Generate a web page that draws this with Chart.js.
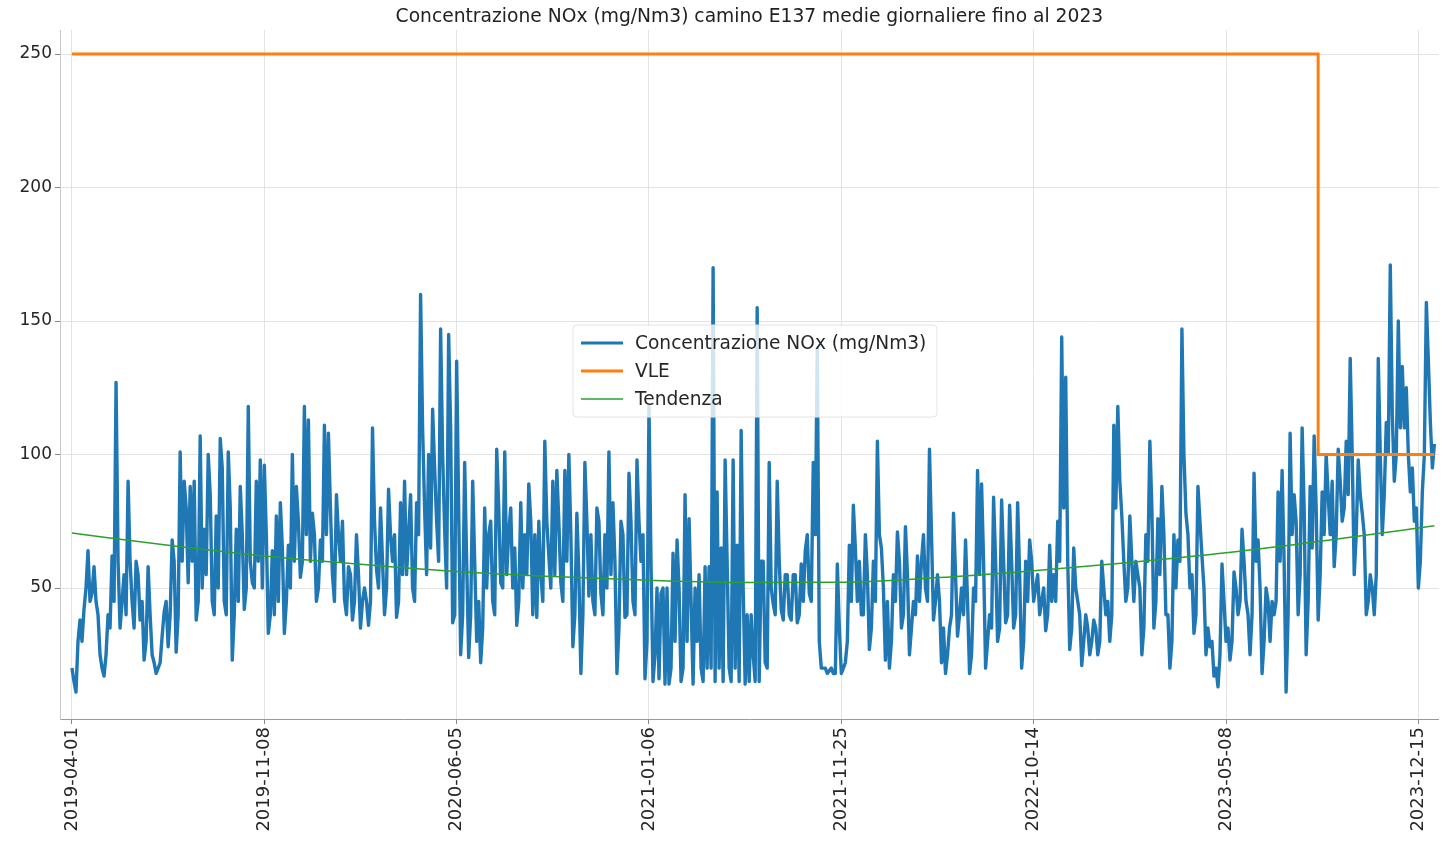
<!DOCTYPE html>
<html>
<head>
<meta charset="utf-8">
<script src="https://cdn.jsdelivr.net/npm/chart.js@4.4.1/dist/chart.umd.min.js"></script>
<style>html,body{margin:0;padding:0;background:#fff;overflow:hidden}</style>
</head>
<body>
<canvas id="c" width="1443" height="841"></canvas>
<script>
const chartTitle = 'Concentrazione NOx (mg/Nm3) camino E137 medie giornaliere fino al 2023';
const seriesNames = ['Concentrazione NOx (mg/Nm3)', 'VLE', 'Tendenza'];
const tickLabels = ['2019-04-01','2019-11-08','2020-06-05','2021-01-06','2021-11-25','2022-10-14','2023-05-08','2023-12-15'];
const tickIndex = [0, 48, 96, 144, 192, 240, 288, 336];
const yTicks = [50, 100, 150, 200, 250];

// NOx readings at whole sample positions
const noxValues = [
 20,11,38,42,64,48,45,25,17,40,62,127,35,55,90,45,60,38,23,58,25,18,22,41,28,68,26,101,90,52,60,38,107,72,100,45,77,106,45,101,23,72,88,42,118,52,90,98,
 96,33,64,77,82,33,66,100,88,54,118,113,78,45,68,111,108,55,85,60,46,58,38,70,35,50,36,110,57,80,40,87,60,39,82,90,70,50,82,160,80,100,117,75,147,72,145,37,
 135,25,97,24,90,30,22,80,70,45,102,52,101,71,50,36,82,70,89,40,39,55,105,62,90,94,52,94,100,28,78,18,97,47,45,80,48,70,101,82,18,75,39,93,45,98,60,16,
 118,15,50,48,14,14,63,68,15,85,76,14,30,20,58,58,170,86,65,98,20,98,66,109,14,15,25,155,60,22,97,44,90,42,55,40,55,37,59,64,48,97,140,20,20,19,18,59,
 18,22,66,81,45,40,70,27,60,105,65,23,20,55,71,35,73,25,45,62,60,50,102,38,55,22,18,35,78,32,50,68,18,50,94,89,20,40,84,30,83,37,81,35,82,20,60,68,45,
 55,45,34,66,55,75,144,129,27,65,45,21,40,25,38,25,60,40,30,111,118,77,45,77,45,55,25,70,105,35,76,88,40,20,70,68,147,78,50,33,88,62,25,28,17,13,59,30,23,
 56,40,72,45,25,93,68,18,50,30,40,86,94,11,108,85,40,110,25,88,107,38,86,100,70,58,102,75,105,136,55,98,78,40,55,40,136,70,112,171,90,150,133,125,86,75,50,86,157,112,104
];

// NOx readings half-way between the whole sample positions
const noxValuesMid = [
 15,30,30,50,45,58,40,20,25,35,45,60,45,40,60,35,55,45,30,40,22,20,32,45,40,60,40,60,80,88,90,45,50,55,85,40,50,95,40,80,40,45,70,50,60,50,60,50,
 70,40,40,45,65,45,50,60,75,60,70,60,70,50,60,70,80,45,70,75,40,55,45,55,45,45,45,75,50,60,50,70,70,45,55,55,85,45,70,110,55,65,95,60,100,50,110,40,
 80,40,60,40,60,45,35,50,75,40,80,50,55,80,65,45,50,55,75,70,75,45,75,50,55,75,45,60,70,40,55,40,75,70,40,75,40,50,55,60,35,70,40,75,40,75,70,30,
 60,25,16,50,50,20,30,50,20,30,45,50,55,15,20,20,15,20,15,60,15,20,15,50,40,40,15,15,60,20,50,40,60,38,55,38,55,40,45,70,45,70,30,20,18,20,18,35,
 20,30,45,65,60,40,55,35,45,70,50,45,30,45,60,40,55,35,40,45,70,45,70,45,45,35,25,40,55,40,40,45,25,45,55,60,30,35,60,35,60,40,60,40,55,30,45,60,50,
 40,50,40,45,45,60,80,60,35,50,40,30,35,30,35,30,50,45,40,80,90,60,50,60,60,50,35,60,80,45,55,70,40,30,50,60,100,70,55,40,75,50,35,30,20,25,45,35,30,
 50,45,60,40,40,60,50,30,45,45,45,60,60,40,70,75,55,80,45,65,80,55,70,85,90,70,90,80,85,100,70,85,70,45,50,55,100,85,100,115,100,110,110,100,95,80,60,100,135,95
];

const vleIndex = [0, 311, 340];
const vleValues = [250, 100, 100];

const trendIndex = [0, 24, 48, 72, 96, 120, 144, 168, 192, 216, 240, 264, 288, 312, 340];
const trendValues = [70.6, 66.0, 62.0, 58.9, 56.2, 54.3, 52.9, 52.1, 52.2, 53.9, 56.5, 59.6, 63.2, 67.6, 73.3];

const colors = ['#1f77b4', '#ff7f0e', '#2ca02c'];
const FONT = 'DejaVu Sans';

const noxPoints = [];
noxValues.forEach((v, i) => {
  noxPoints.push({x: i, y: v});
  if (i < noxValuesMid.length) noxPoints.push({x: i + 0.5, y: noxValuesMid[i]});
});

const legendPlugin = {
  id: 'boxLegend',
  afterDatasetsDraw(chart) {
    const {ctx, chartArea} = chart;
    const x = chartArea.left + 513, y = chartArea.top + 295, w = 364, h = 92, r = 4;
    ctx.save();
    ctx.beginPath();
    ctx.moveTo(x + r, y);
    ctx.lineTo(x + w - r, y); ctx.quadraticCurveTo(x + w, y, x + w, y + r);
    ctx.lineTo(x + w, y + h - r); ctx.quadraticCurveTo(x + w, y + h, x + w - r, y + h);
    ctx.lineTo(x + r, y + h); ctx.quadraticCurveTo(x, y + h, x, y + h - r);
    ctx.lineTo(x, y + r); ctx.quadraticCurveTo(x, y, x + r, y);
    ctx.closePath();
    ctx.fillStyle = 'rgba(255,255,255,0.8)';
    ctx.fill();
    ctx.strokeStyle = '#e3e3e3';
    ctx.lineWidth = 1;
    ctx.stroke();
    const widths = [3, 3, 1.5];
    ctx.font = '18.6px "' + FONT + '"';
    ctx.textBaseline = 'middle';
    ctx.textAlign = 'left';
    seriesNames.forEach((name, i) => {
      const cy = y + 18 + i * 28;
      ctx.beginPath();
      ctx.strokeStyle = colors[i];
      ctx.lineWidth = widths[i];
      ctx.moveTo(x + 8, cy);
      ctx.lineTo(x + 50, cy);
      ctx.stroke();
      ctx.fillStyle = '#262626';
      ctx.fillText(name, x + 62, cy + 1);
    });
    ctx.restore();
  }
};

new Chart(document.getElementById('c'), {
  type: 'line',
  data: {
    datasets: [
      {
        label: seriesNames[0],
        data: noxPoints,
        borderColor: colors[0], borderWidth: 3.4, pointRadius: 0,
        borderJoinStyle: 'round', tension: 0, order: 3
      },
      {
        label: seriesNames[1],
        data: vleValues.map((v, i) => ({x: vleIndex[i], y: v})),
        borderColor: colors[1], borderWidth: 3, pointRadius: 0,
        stepped: true, order: 2
      },
      {
        label: seriesNames[2],
        data: trendValues.map((v, i) => ({x: trendIndex[i], y: v})),
        borderColor: colors[2], borderWidth: 1.5, pointRadius: 0,
        cubicInterpolationMode: 'monotone', order: 1
      }
    ]
  },
  options: {
    responsive: false,
    animation: false,
    layout: { padding: 0 },
    plugins: {
      legend: { display: false },
      tooltip: { enabled: false },
      title: {
        display: true, text: chartTitle, fullSize: false,
        color: '#222', font: { family: FONT, size: 18.7, weight: 'normal' },
        padding: { top: 6, bottom: 1.6 }
      }
    },
    scales: {
      x: {
        type: 'linear', min: -2.99, max: 341.1,
        afterBuildTicks: s => { s.ticks = tickIndex.map(v => ({value: v})); },
        afterFit: s => { s.height = 122; },
        ticks: {
          autoSkip: false, minRotation: 90, maxRotation: 90, padding: 3,
          color: '#262626', font: { family: FONT, size: 18 },
          callback: (v, i) => tickLabels[i]
        },
        grid: { color: '#e3e3e3', lineWidth: 1, tickLength: 5, tickColor: '#888' },
        border: { color: '#999', width: 1 }
      },
      y: {
        type: 'linear', min: 0.94, max: 259,
        afterBuildTicks: s => { s.ticks = yTicks.map(v => ({value: v})); },
        afterFit: s => { s.width = 60; },
        ticks: { padding: 3, color: '#262626', font: { family: FONT, size: 17 } },
        grid: { color: '#e3e3e3', lineWidth: 1, tickLength: 5, tickColor: '#888' },
        border: { color: '#c8c8c8', width: 1 }
      }
    }
  },
  plugins: [legendPlugin]
});
</script>
</body>
</html>
